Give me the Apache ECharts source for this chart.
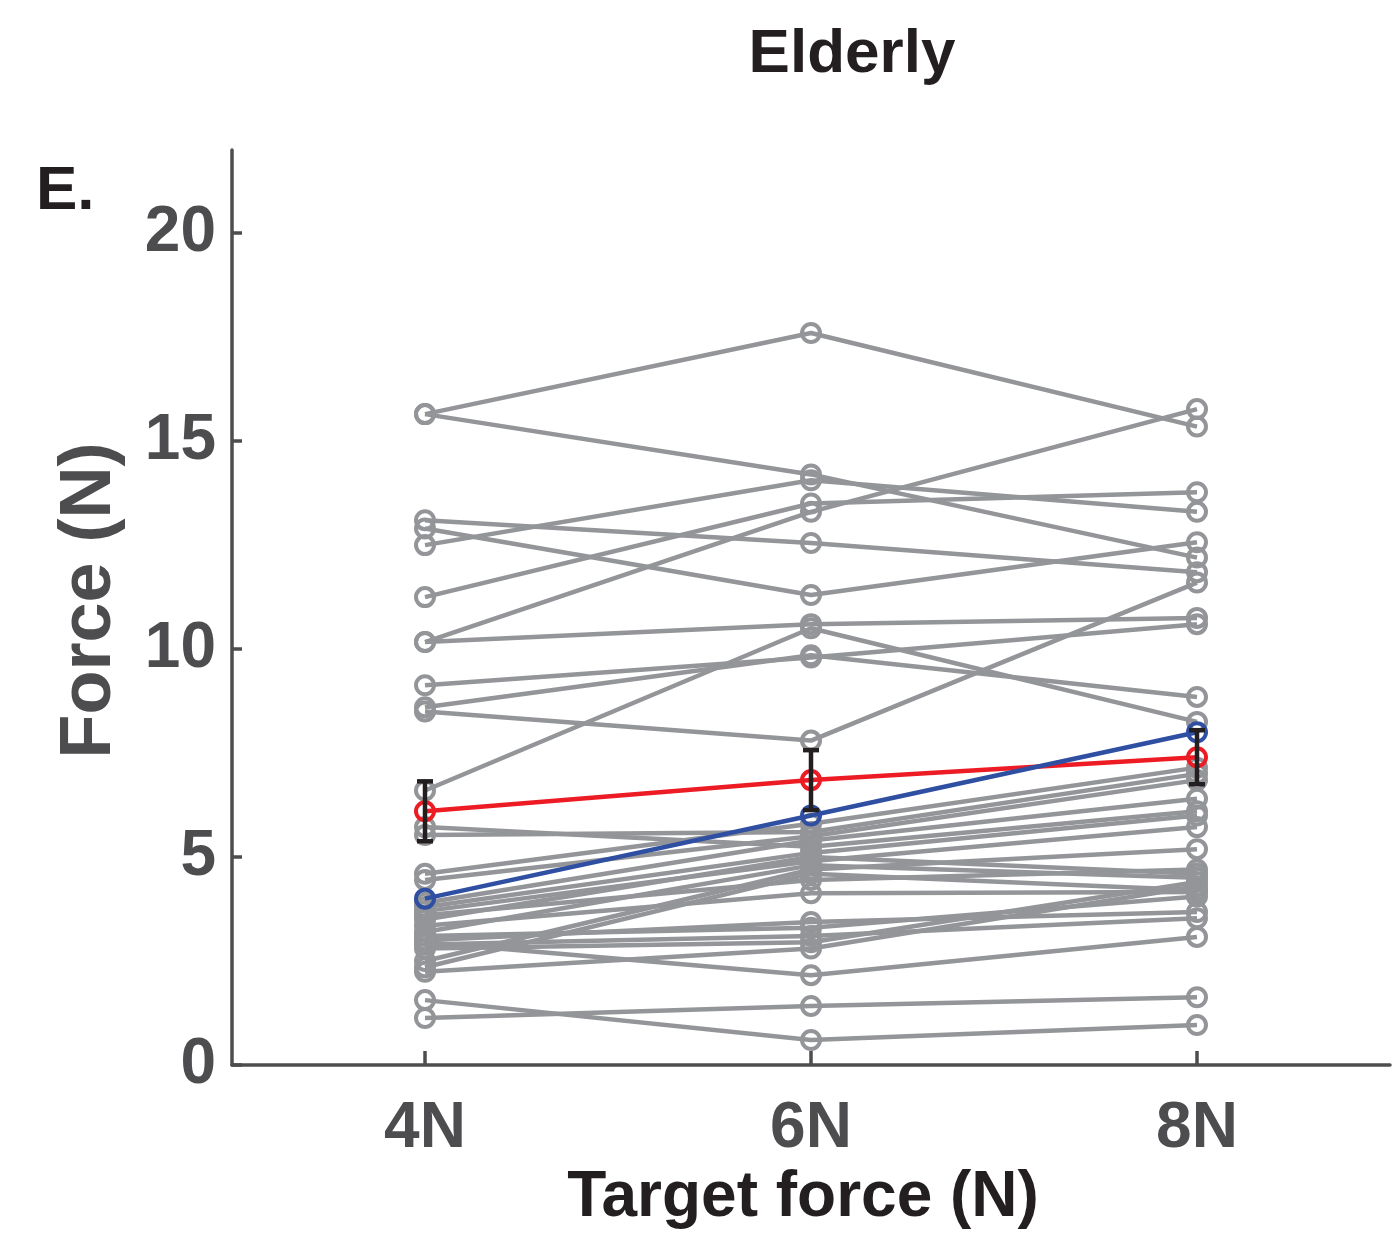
<!DOCTYPE html>
<html>
<head>
<meta charset="utf-8">
<script src="https://cdn.jsdelivr.net/npm/echarts@6/dist/echarts.min.js"></script>
<style>
  html, body { margin: 0; padding: 0; background: #ffffff; }
  #chart { width: 1392px; height: 1242px; }
</style>
</head>
<body>
<div id="chart"></div>
<script>
// Target force conditions
const targetLabels = ['4N', '6N', '8N'];
const targetForces = [4, 6, 8];

// Produced force (N) for each elderly participant at each target
const force4N = [15.65, 15.65, 12.5, 11.25, 10.17, 13.1, 12.9, 10.17, 6.6, 9.13, 8.6, 8.5,
                 5.72, 5.53, 4.6, 4.45, 3.9, 3.8, 3.7, 3.6, 3.5, 3.35, 3.2, 3.1, 3.0, 2.95,
                 2.9, 2.8, 2.5, 2.35, 2.24, 1.56, 1.13];
const force6N = [17.6, 14.2, 14.06, 13.5, 13.3, 12.55, 11.3, 10.6, 10.5, 9.8, 9.85, 7.8,
                 5.25, 5.6, 5.8, 5.5, 5.4, 5.1, 4.9, 4.45, 5.0, 4.13, 4.8, 3.3, 3.44, 2.16,
                 3.1, 2.95, 4.7, 4.6, 2.8, 0.6, 1.42];
const force8N = [15.35, 12.2, 13.3, 13.77, 15.77, 11.85, 12.57, 10.75, 8.25, 10.6, 8.85, 11.6,
                 6.1, 7.0, 7.15, 6.85, 6.4, 6.0, 5.72, 4.7, 4.6, 4.16, 4.5, 4.05, 3.68, 3.08,
                 3.53, 4.4, 5.19, 4.2, 4.3, 0.96, 1.63];

// Group mean and its error bar half-width
const meanForce = [6.1, 6.85, 7.4];
const errorForce = [0.72, 0.72, 0.65];

// Requested (target) force line
const targetLine = [4, 6, 8];

// Axis tick values
const yTicks = [0, 5, 10, 15, 20];

const GRAY = '#939598';
const RED = '#ed1c24';
const BLUE = '#2f4fa2';
const AXIS = '#4d4d4f';
const INK = '#231f20';
const FONT = '"Liberation Sans", Arial, Helvetica, sans-serif';

const toPoints = (vals) => targetForces.map((t, i) => [t, vals[i]]);

const markerLine = (vals, color, z) => ({
  type: 'line',
  data: toPoints(vals),
  symbol: 'circle',
  symbolSize: 18,
  lineStyle: { color: color, width: 4.5 },
  itemStyle: { color: 'rgba(0,0,0,0)', borderColor: color, borderWidth: 4 },
  emphasis: { disabled: true },
  silent: true,
  z: z
});

const subjectSeries = force4N.map((v, i) =>
  markerLine([force4N[i], force6N[i], force8N[i]], GRAY, 2));

const meanSeries = markerLine(meanForce, RED, 4);
const targetSeries = markerLine(targetLine, BLUE, 5);

const errorSeries = {
  type: 'custom',
  data: targetForces.map((t, i) => [t, meanForce[i] - errorForce[i], meanForce[i] + errorForce[i]]),
  encode: { x: 0, y: [1, 2] },
  renderItem: function (params, api) {
    const x = api.value(0);
    const lo = api.coord([x, api.value(1)]);
    const hi = api.coord([x, api.value(2)]);
    const hw = 8;
    const style = { stroke: INK, lineWidth: 4.5, fill: null };
    return {
      type: 'group',
      children: [
        { type: 'line', shape: { x1: lo[0], y1: lo[1], x2: hi[0], y2: hi[1] }, style: style },
        { type: 'line', shape: { x1: lo[0] - hw, y1: lo[1], x2: lo[0] + hw, y2: lo[1] }, style: style },
        { type: 'line', shape: { x1: hi[0] - hw, y1: hi[1], x2: hi[0] + hw, y2: hi[1] }, style: style }
      ]
    };
  },
  silent: true,
  z: 6
};

const chart = echarts.init(document.getElementById('chart'), null, { renderer: 'canvas' });

chart.setOption({
  animation: false,
  backgroundColor: '#ffffff',
  grid: { left: 232, right: 2, top: 150, bottom: 177, containLabel: false },
  xAxis: {
    type: 'value',
    min: 3,
    max: 9,
    axisLine: { onZero: false, lineStyle: { color: AXIS, width: 3.5 } },
    axisTick: { inside: true, length: 14, customValues: targetForces, lineStyle: { color: AXIS, width: 3.5 } },
    axisLabel: {
      customValues: targetForces,
      formatter: (v) => targetLabels[targetForces.indexOf(v)],
      fontSize: 64, fontWeight: 'bold', color: AXIS, fontFamily: FONT, margin: 32
    },
    splitLine: { show: false },
    name: 'Target force (N)',
    nameLocation: 'middle',
    nameGap: 100,
    nameTextStyle: { fontSize: 64, fontWeight: 'bold', color: INK, fontFamily: FONT, padding: [0, 16, 0, 0] }
  },
  yAxis: {
    type: 'value',
    min: 0,
    max: 22,
    axisLine: { onZero: false, lineStyle: { color: AXIS, width: 3.5 } },
    axisTick: { inside: true, length: 10, customValues: yTicks, lineStyle: { color: AXIS, width: 3.5 } },
    axisLabel: {
      customValues: yTicks,
      fontSize: 64, fontWeight: 'bold', color: AXIS, fontFamily: FONT, margin: 16
    },
    splitLine: { show: false },
    name: 'Force (N)',
    nameLocation: 'middle',
    nameGap: 106,
    nameTextStyle: { fontSize: 72, fontWeight: 'bold', color: AXIS, fontFamily: FONT, padding: [0, 0, 0, 14] }
  },
  graphic: [
    {
      type: 'text', x: 852, y: 55,
      style: { text: 'Elderly', fontSize: 62, fontWeight: 'bold', fill: INK, fontFamily: FONT,
               textAlign: 'center', textVerticalAlign: 'middle' }
    },
    {
      type: 'text', x: 36, y: 192,
      style: { text: 'E.', fontSize: 62, fontWeight: 'bold', fill: INK, fontFamily: FONT,
               textAlign: 'left', textVerticalAlign: 'middle' }
    }
  ],
  series: subjectSeries.concat([meanSeries, targetSeries, errorSeries])
});
</script>
</body>
</html>
